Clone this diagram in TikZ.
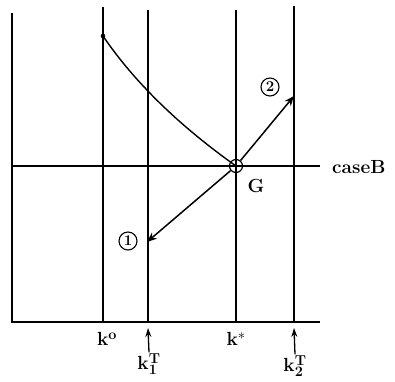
\documentclass[tikz,border=0pt]{standalone}
\usetikzlibrary{arrows.meta}
\begin{document}
\begin{tikzpicture}[x=1pt,y=-1pt,
  ln/.style={line width=1.4pt},
  arr/.style={line width=1.5pt,-{Stealth[length=10pt,width=8pt]}},
  lbl/.style={inner sep=0pt,font=\fontsize{19}{22}\selectfont\bfseries},
  num/.style={circle,draw,line width=1.1pt,inner sep=0.5pt,minimum size=18pt,font=\fontsize{15}{16}\selectfont\bfseries}]
\useasboundingbox (0,0) rectangle (395,381);
% axes
\coordinate (O) at (12,322);
\coordinate (Ytop) at (12,13);
\coordinate (Xend) at (320,322);
\draw[ln] (Ytop) -- (O) -- (Xend);
% vertical lines
\coordinate (k0t) at (103,7);   \coordinate (k0b) at (103,322);
\coordinate (k1t) at (148,10);  \coordinate (k1b) at (148,322);
\coordinate (kst) at (236,10);  \coordinate (ksb) at (236,322);
\coordinate (k2t) at (294,6);   \coordinate (k2b) at (294,322);
\draw[ln] (k0t) -- (k0b);
\draw[ln] (k1t) -- (k1b);
\draw[ln] (kst) -- (ksb);
\draw[ln] (k2t) -- (k2b);
% horizontal line
\coordinate (hl) at (12,166);
\coordinate (hr) at (320,166);
\draw[ln] (hl) -- (hr);
\node[lbl,anchor=west] (caseB) at (332,167) {caseB};
% G
\node[circle,draw,line width=1.2pt,minimum size=13pt,inner sep=0pt] (G) at (236,166) {};
\node[lbl] (Glab) at (256,186) {G};
% curve
\coordinate (P0) at (103,36);
\fill (P0) circle (2.3pt);
\draw[ln] (P0) .. controls (134.3,82) and (178.7,125.3) .. (G.center);
% arrows
\coordinate (a1) at (147,242);
\coordinate (a2) at (294,96);
\draw[arr] (G) -- (a1);
\draw[arr] (G) -- (a2);
\node[num] (n1) at (128,241) {1};
\node[num] (n2) at (270,87) {2};
% bottom labels
\node[lbl] (k0) at (107,339) {k$^{\mathbf{o}}$};
\node[lbl] (kstar) at (236,339) {k$^{*}$};
\node[lbl] (k1T) at (149,364) {k$_{\mathbf{1}}^{\mathbf{T}}$};
\node[lbl] (k2T) at (295,366) {k$_{\mathbf{2}}^{\mathbf{T}}$};
\coordinate (k1a) at (148,328);
\coordinate (k2a) at (294,328);
\draw[line width=1.3pt,-{Stealth[length=9pt,width=6pt]}] (k1T.north) ++(0,-1) -- (k1a);
\draw[line width=1.3pt,-{Stealth[length=9pt,width=6pt]}] (k2T.north) ++(0,-1) -- (k2a);
\end{tikzpicture}
\end{document}
